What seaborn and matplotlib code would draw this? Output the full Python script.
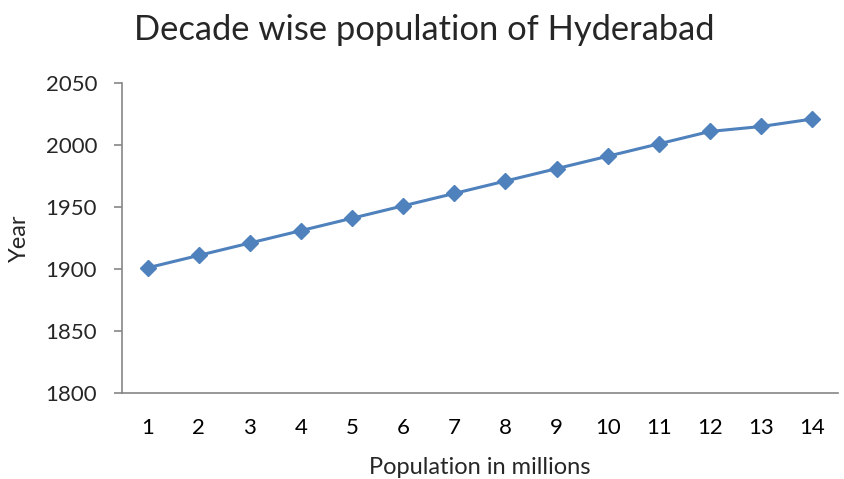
import seaborn as sns
import matplotlib.pyplot as plt
import pandas as pd
from matplotlib.ticker import MultipleLocator, FixedLocator

# data
population = [1, 2, 3, 4, 5, 6, 7, 8, 9, 10, 11, 12, 13, 14]
years = [1901, 1911, 1921, 1931, 1941, 1951, 1961, 1971, 1981, 1991, 2001, 2011, 2015, 2021]

df = pd.DataFrame({'Population': population, 'Year': years})

sns.set_style('white')
plt.rcParams['font.family'] = ['Lato', 'DejaVu Sans']

fig = plt.figure(figsize=(8.44, 4.79), dpi=100)
ax = fig.add_axes([0.1446, 0.1795, 0.848, 0.647])

blue = '#4F81BD'
sns.lineplot(data=df, x='Population', y='Year', ax=ax, color=blue,
             linewidth=2.2, marker='D', markersize=8, markeredgewidth=1,
             markeredgecolor=blue, markerfacecolor=blue)

ax.set_xlim(0.5, 14.5)
ax.set_ylim(1800, 2050)
ax.yaxis.set_major_locator(MultipleLocator(50))
ax.xaxis.set_major_locator(FixedLocator(population))
ax.xaxis.set_minor_locator(FixedLocator([p - 0.5 for p in population] + [14.5]))

grey = '#868686'
for s in ['top', 'right']:
    ax.spines[s].set_visible(False)
for s in ['left', 'bottom']:
    ax.spines[s].set_color(grey)
    ax.spines[s].set_linewidth(1.2)

ax.tick_params(axis='x', which='major', length=0, pad=18, labelsize=16, colors='black')
ax.tick_params(axis='x', which='minor', length=6, width=1.2, color=grey, direction='out')
ax.tick_params(axis='y', which='major', length=6, width=1.2, color=grey, direction='out',
               pad=12, labelsize=16, left=True)

ax.set_xlabel('Population in millions', fontsize=17, labelpad=14)
ax.set_ylabel('Year', fontsize=17, labelpad=11)
fig.text(0.503, 0.937, 'Decade wise population of Hyderabad', fontsize=24.8,
         ha='center', va='center')

fig.savefig('out.png', dpi=100)
